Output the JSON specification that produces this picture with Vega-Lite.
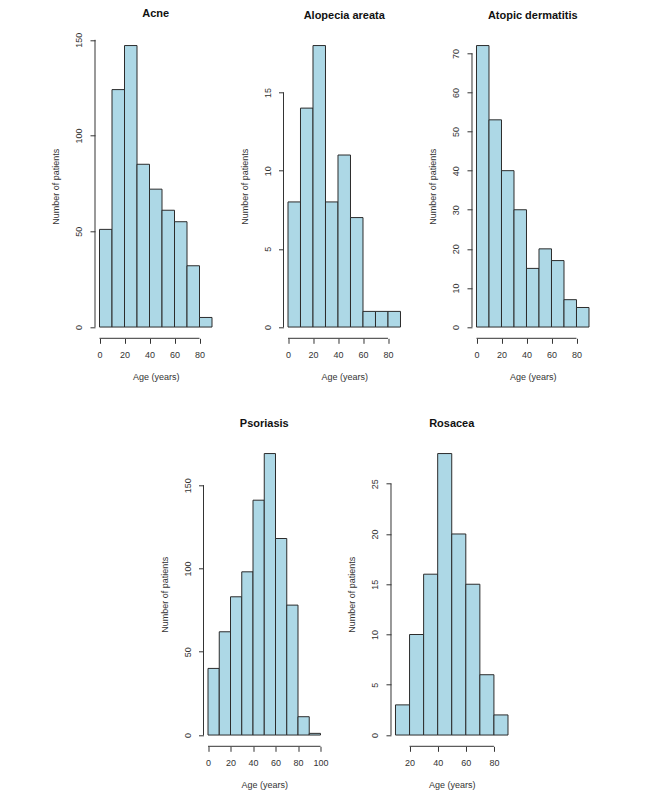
{
  "$schema": "https://vega.github.io/schema/vega-lite/v6.json",
  "autosize": {"type": "pad"},
  "padding": {"left": 51, "top": 7.3, "right": 5, "bottom": 5},
  "background": "white",
  "datasets": {
    "acne": [
      {"start": 0, "end": 10, "count": 51},
      {"start": 10, "end": 20, "count": 124},
      {"start": 20, "end": 30, "count": 147},
      {"start": 30, "end": 40, "count": 85},
      {"start": 40, "end": 50, "count": 72},
      {"start": 50, "end": 60, "count": 61},
      {"start": 60, "end": 70, "count": 55},
      {"start": 70, "end": 80, "count": 32},
      {"start": 80, "end": 90, "count": 5}
    ],
    "alopecia": [
      {"start": 0, "end": 10, "count": 8},
      {"start": 10, "end": 20, "count": 14},
      {"start": 20, "end": 30, "count": 18},
      {"start": 30, "end": 40, "count": 8},
      {"start": 40, "end": 50, "count": 11},
      {"start": 50, "end": 60, "count": 7},
      {"start": 60, "end": 70, "count": 1},
      {"start": 70, "end": 80, "count": 1},
      {"start": 80, "end": 90, "count": 1}
    ],
    "atopic": [
      {"start": 0, "end": 10, "count": 72},
      {"start": 10, "end": 20, "count": 53},
      {"start": 20, "end": 30, "count": 40},
      {"start": 30, "end": 40, "count": 30},
      {"start": 40, "end": 50, "count": 15},
      {"start": 50, "end": 60, "count": 20},
      {"start": 60, "end": 70, "count": 17},
      {"start": 70, "end": 80, "count": 7},
      {"start": 80, "end": 90, "count": 5}
    ],
    "psoriasis": [
      {"start": 0, "end": 10, "count": 40},
      {"start": 10, "end": 20, "count": 62},
      {"start": 20, "end": 30, "count": 83},
      {"start": 30, "end": 40, "count": 98},
      {"start": 40, "end": 50, "count": 141},
      {"start": 50, "end": 60, "count": 169},
      {"start": 60, "end": 70, "count": 118},
      {"start": 70, "end": 80, "count": 78},
      {"start": 80, "end": 90, "count": 11},
      {"start": 90, "end": 100, "count": 1}
    ],
    "rosacea": [
      {"start": 10, "end": 20, "count": 3},
      {"start": 20, "end": 30, "count": 10},
      {"start": 30, "end": 40, "count": 16},
      {"start": 40, "end": 50, "count": 28},
      {"start": 50, "end": 60, "count": 20},
      {"start": 60, "end": 70, "count": 15},
      {"start": 70, "end": 80, "count": 6},
      {"start": 80, "end": 90, "count": 2}
    ]
  },
  "config": {
    "view": {"stroke": null},
    "axis": {
      "domain": false, "grid": false,
      "tickColor": "#333", "tickSize": 5, "tickWidth": 1,
      "labelFont": "Liberation Sans", "labelFontSize": 9, "labelColor": "#333",
      "labelFlush": false, "labelOverlap": false, "labelBound": false,
      "titleFont": "Liberation Sans", "titleFontSize": 9, "titleFontWeight": "normal", "titleColor": "#333"
    },
    "axisX": {"labelPadding": 7, "titlePadding": 13.7, "labelAngle": 0},
    "axisY": {"labelPadding": 6.5, "titlePadding": 14, "labelAngle": 270},
    "title": {"font": "Liberation Sans", "fontSize": 11, "fontWeight": "bold", "color": "#111", "offset": 13.2, "anchor": "middle"}
  },
  "spacing": 35,
  "resolve": {"scale": {"x": "independent", "y": "independent"}},
  "vconcat": [
    {
      "hconcat": [
        {
          "width": 121.5, "height": 304,
          "title": "Acne",
          "layer": [
            {
              "data": {"name": "acne"},
              "mark": {"type": "rect", "fill": "#ADD8E6", "stroke": "#2b2b2b", "strokeWidth": 1},
              "encoding": {
                "x": {"field": "start", "type": "quantitative", "scale": {"domain": [-3.6, 93.6], "nice": false, "zero": false}, "axis": {"values": [0, 20, 40, 60, 80], "tickCount": 20, "labelOverlap": false, "title": "Age (years)"}},
                "x2": {"field": "end"},
                "y": {"field": "count", "type": "quantitative", "scale": {"domain": [-5.88, 152.88], "nice": false, "zero": false}, "axis": {"values": [0, 50, 100, 150], "tickCount": 20, "labelOverlap": false, "title": "Number of patients"}},
                "y2": {"datum": 0}
              }
            },
            {"data": {"values": [{}]}, "mark": {"type": "rule", "color": "#333"}, "encoding": {"x": {"datum": 0}, "x2": {"datum": 80}, "y": {"datum": -5.88}}},
            {"data": {"values": [{}]}, "mark": {"type": "rule", "color": "#333"}, "encoding": {"y": {"datum": 0}, "y2": {"datum": 150}, "x": {"datum": -3.6}}}
          ]
        },
        {
          "width": 121.5, "height": 304,
          "title": "Alopecia areata",
          "layer": [
            {
              "data": {"name": "alopecia"},
              "mark": {"type": "rect", "fill": "#ADD8E6", "stroke": "#2b2b2b", "strokeWidth": 1},
              "encoding": {
                "x": {"field": "start", "type": "quantitative", "scale": {"domain": [-3.6, 93.6], "nice": false, "zero": false}, "axis": {"values": [0, 20, 40, 60, 80], "tickCount": 20, "labelOverlap": false, "title": "Age (years)"}},
                "x2": {"field": "end"},
                "y": {"field": "count", "type": "quantitative", "scale": {"domain": [-0.72, 18.72], "nice": false, "zero": false}, "axis": {"values": [0, 5, 10, 15], "tickCount": 20, "labelOverlap": false, "title": "Number of patients"}},
                "y2": {"datum": 0}
              }
            },
            {"data": {"values": [{}]}, "mark": {"type": "rule", "color": "#333"}, "encoding": {"x": {"datum": 0}, "x2": {"datum": 80}, "y": {"datum": -0.72}}},
            {"data": {"values": [{}]}, "mark": {"type": "rule", "color": "#333"}, "encoding": {"y": {"datum": 0}, "y2": {"datum": 15}, "x": {"datum": -3.6}}}
          ]
        },
        {
          "width": 121.5, "height": 304,
          "title": "Atopic dermatitis",
          "layer": [
            {
              "data": {"name": "atopic"},
              "mark": {"type": "rect", "fill": "#ADD8E6", "stroke": "#2b2b2b", "strokeWidth": 1},
              "encoding": {
                "x": {"field": "start", "type": "quantitative", "scale": {"domain": [-3.6, 93.6], "nice": false, "zero": false}, "axis": {"values": [0, 20, 40, 60, 80], "tickCount": 20, "labelOverlap": false, "title": "Age (years)"}},
                "x2": {"field": "end"},
                "y": {"field": "count", "type": "quantitative", "scale": {"domain": [-2.88, 74.88], "nice": false, "zero": false}, "axis": {"values": [0, 10, 20, 30, 40, 50, 60, 70], "tickCount": 20, "labelOverlap": false, "title": "Number of patients"}},
                "y2": {"datum": 0}
              }
            },
            {"data": {"values": [{}]}, "mark": {"type": "rule", "color": "#333"}, "encoding": {"x": {"datum": 0}, "x2": {"datum": 80}, "y": {"datum": -2.88}}},
            {"data": {"values": [{}]}, "mark": {"type": "rule", "color": "#333"}, "encoding": {"y": {"datum": 0}, "y2": {"datum": 70}, "x": {"datum": -3.6}}}
          ]
        }
      ],
      "spacing": 66.5,
      "bounds": "flush",
      "resolve": {"scale": {"x": "independent", "y": "independent"}}
    },
    {
      "hconcat": [
        {"width": 42.3, "height": 304, "data": {"values": []}, "mark": "point", "encoding": {}},
        {
          "width": 121.5, "height": 304,
          "title": "Psoriasis",
          "layer": [
            {
              "data": {"name": "psoriasis"},
              "mark": {"type": "rect", "fill": "#ADD8E6", "stroke": "#2b2b2b", "strokeWidth": 1},
              "encoding": {
                "x": {"field": "start", "type": "quantitative", "scale": {"domain": [-4, 104], "nice": false, "zero": false}, "axis": {"values": [0, 20, 40, 60, 80, 100], "tickCount": 20, "labelOverlap": false, "title": "Age (years)"}},
                "x2": {"field": "end"},
                "y": {"field": "count", "type": "quantitative", "scale": {"domain": [-6.76, 175.76], "nice": false, "zero": false}, "axis": {"values": [0, 50, 100, 150], "tickCount": 20, "labelOverlap": false, "title": "Number of patients"}},
                "y2": {"datum": 0}
              }
            },
            {"data": {"values": [{}]}, "mark": {"type": "rule", "color": "#333"}, "encoding": {"x": {"datum": 0}, "x2": {"datum": 100}, "y": {"datum": -6.76}}},
            {"data": {"values": [{}]}, "mark": {"type": "rule", "color": "#333"}, "encoding": {"y": {"datum": 0}, "y2": {"datum": 150}, "x": {"datum": -4}}}
          ]
        },
        {
          "width": 121.5, "height": 304,
          "title": "Rosacea",
          "layer": [
            {
              "data": {"name": "rosacea"},
              "mark": {"type": "rect", "fill": "#ADD8E6", "stroke": "#2b2b2b", "strokeWidth": 1},
              "encoding": {
                "x": {"field": "start", "type": "quantitative", "scale": {"domain": [6.8, 93.2], "nice": false, "zero": false}, "axis": {"values": [20, 40, 60, 80], "tickCount": 20, "labelOverlap": false, "title": "Age (years)"}},
                "x2": {"field": "end"},
                "y": {"field": "count", "type": "quantitative", "scale": {"domain": [-1.12, 29.12], "nice": false, "zero": false}, "axis": {"values": [0, 5, 10, 15, 20, 25], "tickCount": 20, "labelOverlap": false, "title": "Number of patients"}},
                "y2": {"datum": 0}
              }
            },
            {"data": {"values": [{}]}, "mark": {"type": "rule", "color": "#333"}, "encoding": {"x": {"datum": 20}, "x2": {"datum": 80}, "y": {"datum": -1.12}}},
            {"data": {"values": [{}]}, "mark": {"type": "rule", "color": "#333"}, "encoding": {"y": {"datum": 0}, "y2": {"datum": 25}, "x": {"datum": 6.8}}}
          ]
        }
      ],
      "spacing": 65.5,
      "bounds": "flush",
      "resolve": {"scale": {"x": "independent", "y": "independent"}}
    }
  ]
}
